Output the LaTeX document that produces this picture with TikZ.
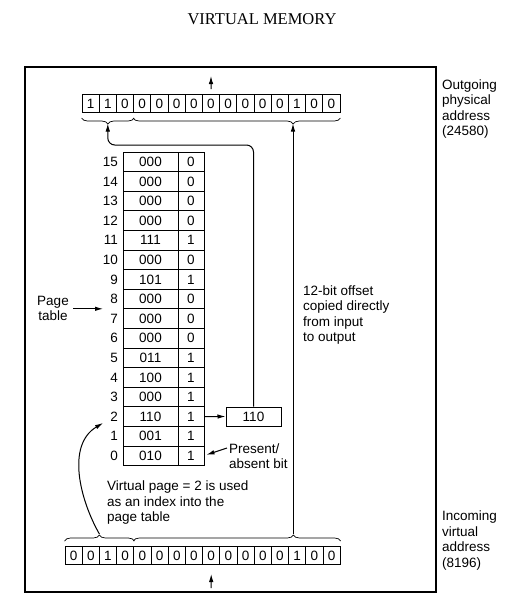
\documentclass[tikz,border=0pt]{standalone}
\usepackage{fontspec}
\setmainfont{Liberation Sans}
\newfontfamily\titlefont{Liberation Serif}
\usetikzlibrary{arrows.meta,decorations.pathreplacing,calc}
\newcommand\dfont{\fontsize{13.5}{15.5}\selectfont}
\begin{document}
\dfont
\begin{tikzpicture}[x=1pt,y=-1pt,
  bitcell/.style={draw,font=\dfont,line width=1pt,minimum width=17.2pt,minimum height=18pt,inner sep=0pt},
  framecell/.style={draw,font=\dfont,line width=1pt,minimum width=55pt,minimum height=19.6pt,inner sep=0pt},
  presentcell/.style={draw,font=\dfont,line width=1pt,minimum width=26pt,minimum height=19.6pt,inner sep=0pt},
  idxlabel/.style={font=\dfont,anchor=east,inner sep=0pt},
  txt/.style={font=\dfont,align=left,inner sep=0pt,anchor=west},
  conn/.style={line width=1pt,-{Latex[length=8pt,width=4.5pt]}},
  bracestyle/.style={line width=0.7pt,decorate,decoration={brace,amplitude=6pt,aspect=#1}},
]
\useasboundingbox (0,0) rectangle (524,614);
\node[font=\titlefont\fontsize{16.5}{18}\selectfont] (title) at (262,19) {VIRTUAL MEMORY};
\draw[line width=1.3pt] (25,67) rectangle (436,592);

% outgoing physical address
\foreach \b [count=\i from 0] in {1,1,0,0,0,0,0,0,0,0,0,0,1,0,0}{
  \node[bitcell] (t\i) at ({82+17.2*(\i+0.5)},103.5) {\b};
}
% incoming virtual address
\foreach \b [count=\i from 0] in {0,0,1,0,0,0,0,0,0,0,0,0,0,1,0,0}{
  \node[bitcell] (v\i) at ({65+17.2*(\i+0.5)},555.5) {\b};
}

% braces
\draw[bracestyle=0.5] ($(t2.south east)+(0,5)$) -- ($(t0.south west)+(0,5)$);
\draw[bracestyle=0.228] ($(t14.south east)+(0,5)$) -- ($(t3.south west)+(0,5)$);
\draw[bracestyle=0.5] ($(v0.north west)+(0,-5)$) -- ($(v3.north east)+(0,-5)$);
\draw[bracestyle=0.772] ($(v4.north west)+(0,-5)$) -- ($(v15.north east)+(0,-5)$);
\coordinate (ttipA) at (107.8,123.5);
\coordinate (ttipB) at (293,123.5);
\coordinate (vtipA) at (99.4,534);
\coordinate (vtipB) at (293,534);

% page table
\foreach \r/\f/\p in {15/000/0,14/000/0,13/000/0,12/000/0,11/111/1,10/000/0,9/101/1,8/000/0,7/000/0,6/000/0,5/011/1,4/100/1,3/000/1,2/110/1,1/001/1,0/010/1}{
  \pgfmathsetmacro\yy{152+19.6*(15.5-\r)}
  \node[framecell] (f\r) at (150.5,\yy) {\f};
  \node[presentcell] (p\r) at (191,\yy) {\p};
  \node[idxlabel] (i\r) at (118,\yy) {\r};
}

\node[font=\dfont,align=center,inner sep=0pt] (ptlabel) at (53,308.5) {Page\\table};
\coordinate (ptstart) at (73,308.8);
\coordinate (ptarrow) at (103,308.8);
\draw[conn] (ptstart) -- (ptarrow);

% physical page box
\node[draw,font=\dfont,line width=1pt,minimum width=55pt,minimum height=19pt,inner sep=0pt] (ppage) at (253.5,416.5) {110};
\draw[conn] (p2.east) -- (ppage.west);
\coordinate (bendA) at (ppage.north |- 0,145);
\coordinate (bendB) at (ttipA |- 0,145);
\draw[conn,rounded corners=7pt] (ppage.north) -- (bendA) -- (bendB) -- (ttipA);

% offset line
\draw[conn] (vtipB) -- (ttipB);

% virtual page index curve
\coordinate (vpend) at (103,423);
\draw[conn] (vtipA) .. controls (80,500) and (66,445) .. (vpend);

% present/absent
\node[txt] (pa) at (229,456) {Present/\\absent bit};
\coordinate (pastart) at (227,448);
\draw[conn] (pastart) -- ($(p0.east)+(2,-1)$);

% texts
\node[txt] (vptext) at (107,503) {Virtual page = 2 is used\\as an index into the\\page table};
\node[txt] (offtext) at (303,315) {12-bit offset\\copied directly\\from input\\to output};
\node[txt] (outlabel) at (442,109) {Outgoing\\physical\\address\\(24580)};
\node[txt] (inlabel) at (442,540.5) {Incoming\\virtual\\address\\(8196)};

% top and bottom arrows
\coordinate (topout) at (211,76);
\draw[conn] ($(t7.north)+(0,-5)$) -- (topout);
\coordinate (botin) at (211.2,588);
\draw[conn] (botin) -- ($(v8.south)+(0,9)$);
\end{tikzpicture}
\end{document}
